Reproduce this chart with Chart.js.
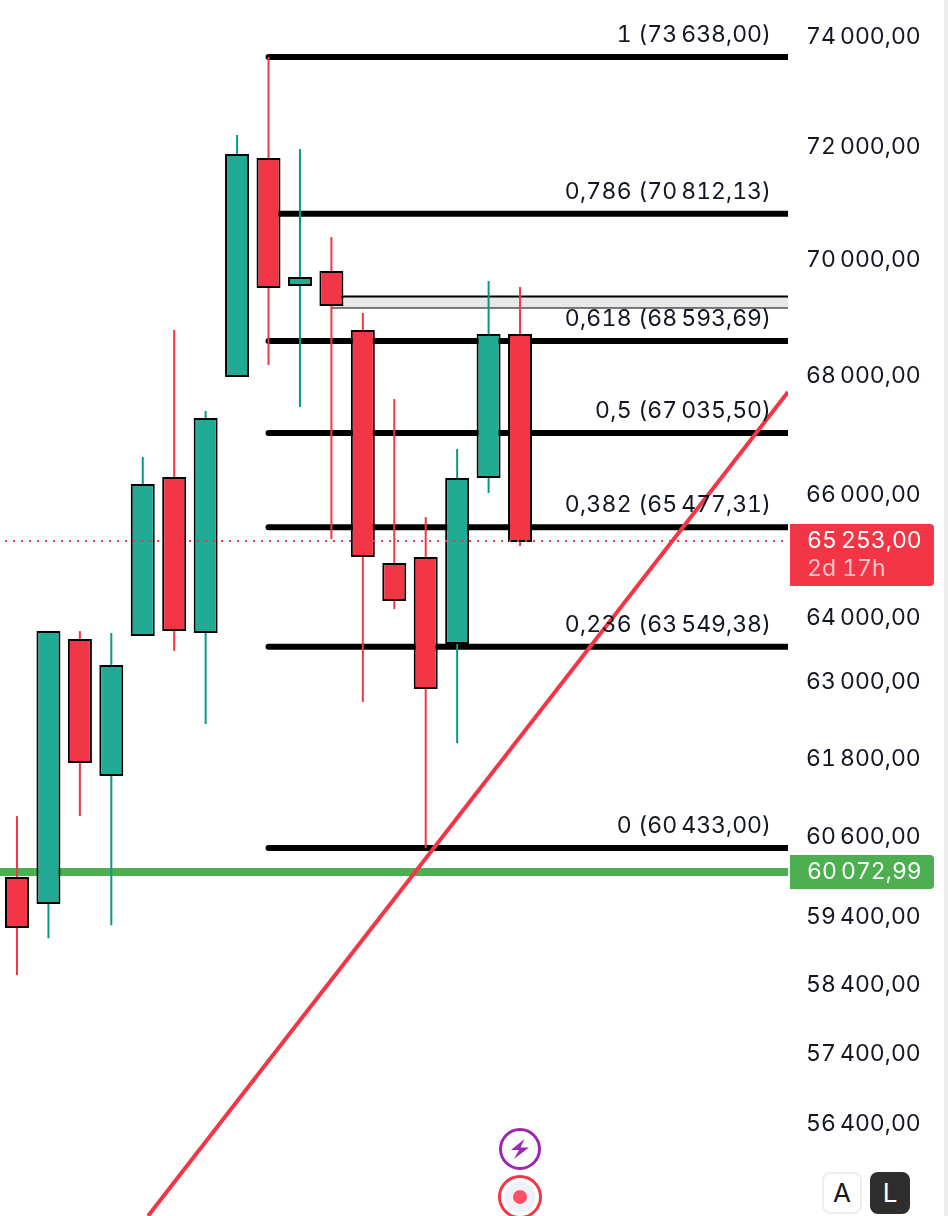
<!DOCTYPE html>
<html>
<head>
<meta charset="utf-8">
<title>Chart</title>
<script src="https://cdn.jsdelivr.net/npm/chart.js@4/dist/chart.umd.min.js"></script>
<style>
    html, body { margin: 0; padding: 0; background: #fff; }
    #wrap { position: relative; width: 948px; height: 1216px; overflow: hidden; }
    #candleChart { font-feature-settings: "tnum"; font-variant-numeric: tabular-nums; }
    #strip { position: absolute; left: 944px; top: 0; width: 4px; height: 1216px; background: #ececec; }
    .scaleBtn {
        position: absolute; top: 1172px; width: 40px; height: 42px; box-sizing: border-box;
        border-radius: 8px; font: 26px Inter, sans-serif; text-align: center; line-height: 42px;
    }
    #btnA { left: 822px; background: #fff; color: #131722; border: 2px solid #eeeeee; line-height: 38px; }
    #btnL { left: 870px; background: #2e2e2e; color: #fff; }
    .icon { position: absolute; left: 497px; width: 46px; height: 46px; }
</style>
</head>
<body>
<div id="wrap">
    <canvas id="candleChart" width="948" height="1216"></canvas>
    <div id="strip"></div>
    <svg class="icon" style="top:1126px" viewBox="0 0 46 46">
        <circle cx="23" cy="23" r="19.5" fill="#fff" stroke="#9c27b0" stroke-width="3"/>
        <path d="M27.5 13 L14 24 L22 24 L17 33 L32 21.5 L23.5 21.5 Z" fill="#9c27b0"/>
    </svg>
    <svg class="icon" style="top:1174px" viewBox="0 0 46 46">
        <circle cx="23" cy="23" r="20.5" fill="#fff" stroke="#f23645" stroke-width="3"/>
        <circle cx="23" cy="23" r="15.5" fill="#eef1f8"/>
        <circle cx="23" cy="23" r="7" fill="#ff5265"/>
    </svg>
    <div class="scaleBtn" id="btnA">A</div>
    <div class="scaleBtn" id="btnL">L</div>
</div>

<script>
// Candles, oldest first
const opens  = [59997, 59594, 63673, 61530, 63721, 66304, 63769, 67981, 71805, 69544, 69806, 68785, 64894, 64991, 63594, 66287, 68716];
const closes = [59237, 63800, 61730, 63260, 66188, 63800, 67288, 71877, 69510, 69701, 69198, 64991, 64281, 62882, 66287, 68716, 65235];
const highs  = [60918, 63800, 63800, 63769, 66636, 68785, 67406, 72219, 73640, 71967, 70402, 69077, 67608, 65645, 66769, 69632, 69527];
const lows   = [58545, 59089, 60918, 59281, 63721, 63482, 62335, 67981, 68185, 67474, 65285, 62678, 64152, 60433, 62039, 66039, 65170];

// Fibonacci levels
const fibRatios = ['1', '0,786', '0,618', '0,5', '0,382', '0,236', '0'];
const fibPrices = [73638.00, 70812.13, 68593.69, 67035.50, 65477.31, 63549.38, 60433.00];
const fibPriceLabels = ['73 638,00', '70 812,13', '68 593,69', '67 035,50', '65 477,31', '63 549,38', '60 433,00'];
const fibStart = 8;

// Price axis
const tickValues = [74000, 72000, 70000, 68000, 66000, 64000, 63000, 61800, 60600, 59400, 58400, 57400, 56400];

// Other drawn levels
const lastPrice = 65253.00;
const greenLevel = 60072.99;
const zoneTop = 69364;
const zoneBottom = 69172;
const zoneStart = 10;
const trendX = [4.167, 24.523];
const trendY = [55126, 67727];

const xMin = -0.5407;
const xMax = 24.523;
const yMin = 55126;
const yMax = 74696;

const RED = '#f23645';
const GREEN_BODY = '#22ab94';
const GREEN_WICK = '#089981';
const GROUP_SPACE = '\u202f';

// "74 000,00" with the thin group space used on the axis
function formatPrice(value) {
    const fixed = value.toFixed(2).split('.');
    return fixed[0].replace(/\B(?=(\d{3})+$)/g, GROUP_SPACE) + ',' + fixed[1];
}

function candleColor(i, up, down) {
    return closes[i] >= opens[i] ? up : down;
}

function levelLine(x0, x1, value, extra) {
    return Object.assign({
        type: 'line',
        data: [{ x: x0, y: value }, { x: x1, y: value }],
        pointRadius: 0,
        borderWidth: 6,
        borderColor: '#000',
        clip: 0
    }, extra);
}

// Fib labels and price tags
const overlayPlugin = {
    id: 'overlay',
    afterDraw(chart) {
        const ctx = chart.ctx;
        const y = chart.scales.y;
        ctx.save();
        ctx.textBaseline = 'middle';

        ctx.font = '23px Inter, sans-serif';
        ctx.letterSpacing = '0.25px';
        ctx.fillStyle = '#131722';
        ctx.textAlign = 'right';
        fibRatios.forEach((ratio, i) => {
            const label = ratio + ' (' + fibPriceLabels[i].replace(' ', GROUP_SPACE) + ')';
            ctx.fillText(label, 771, y.getPixelForValue(fibPrices[i]) - 22);
        });
        ctx.letterSpacing = '0px';

        // Red tag with countdown
        const lastY = y.getPixelForValue(lastPrice);
        ctx.fillStyle = RED;
        ctx.beginPath();
        ctx.roundRect(790, lastY - 17, 144, 62, [0, 4, 4, 0]);
        ctx.fill();
        ctx.textAlign = 'left';
        ctx.fillStyle = '#fff';
        ctx.fillText(formatPrice(lastPrice), 807, lastY);
        ctx.fillStyle = 'rgba(255,255,255,0.7)';
        ctx.fillText('2d 17h', 807, lastY + 28);

        // Green tag
        const greenY = y.getPixelForValue(greenLevel);
        ctx.fillStyle = '#4caf50';
        ctx.beginPath();
        ctx.roundRect(790, greenY - 17, 144, 34, [0, 4, 4, 0]);
        ctx.fill();
        ctx.fillStyle = '#fff';
        ctx.fillText(formatPrice(greenLevel), 807, greenY);
        ctx.restore();
    }
};

const indexes = opens.map((_, i) => i);

const datasets = [
    {
        type: 'bar',
        data: indexes.map(i => ({ x: i, y: [opens[i], closes[i]] })),
        backgroundColor: indexes.map(i => candleColor(i, GREEN_BODY, RED)),
        borderColor: '#000',
        borderWidth: 2,
        borderSkipped: false,
        barThickness: 24,
        grouped: false,
        inflateAmount: 0,
        order: 2
    },
    {
        type: 'bar',
        data: indexes.map(i => ({ x: i, y: [lows[i], highs[i]] })),
        backgroundColor: indexes.map(i => candleColor(i, GREEN_WICK, RED)),
        borderWidth: 0,
        barThickness: 2,
        grouped: false,
        inflateAmount: 0,
        order: 3
    },
    {
        type: 'line',
        data: trendX.map((x, i) => ({ x: x, y: trendY[i] })),
        pointRadius: 0,
        borderWidth: 4,
        borderColor: RED,
        order: 1
    },
    levelLine(xMin + 0.16, xMax, lastPrice, { borderWidth: 2, borderColor: RED, borderDash: [2, 6], order: 0 }),
    levelLine(zoneStart, xMax, zoneTop, { borderWidth: 2, fill: '+1', backgroundColor: '#e8e8e8', order: 5 }),
    levelLine(zoneStart, xMax, zoneBottom, { borderWidth: 2, order: 5 }),
    levelLine(xMin, xMax, greenLevel, { borderWidth: 8, borderColor: '#4caf50', order: 6 })
];

fibPrices.forEach(price => {
    datasets.push(levelLine(fibStart, xMax, price, { borderCapStyle: 'round', order: 4 }));
});

new Chart(document.getElementById('candleChart'), {
    data: { datasets: datasets },
    plugins: [overlayPlugin],
    options: {
        responsive: false,
        animation: false,
        layout: { padding: 0 },
        plugins: { legend: { display: false }, tooltip: { enabled: false } },
        scales: {
            x: { type: 'linear', min: xMin, max: xMax, display: false, offset: false },
            y: {
                type: 'logarithmic',
                position: 'right',
                min: yMin,
                max: yMax,
                bounds: 'data',
                grid: { display: false, drawTicks: false },
                border: { display: false },
                afterBuildTicks(axis) {
                    axis.ticks = tickValues.map(v => ({ value: v }));
                },
                afterFit(axis) {
                    // no extra room above and below for the tick labels
                    axis.width = 160;
                    axis.paddingTop = 0;
                    axis.paddingBottom = 0;
                },
                ticks: {
                    autoSkip: false,
                    padding: 18,
                    color: '#131722',
                    font: { family: 'Inter, sans-serif', size: 23 },
                    callback: value => formatPrice(value)
                }
            }
        }
    }
});
</script>
</body>
</html>
